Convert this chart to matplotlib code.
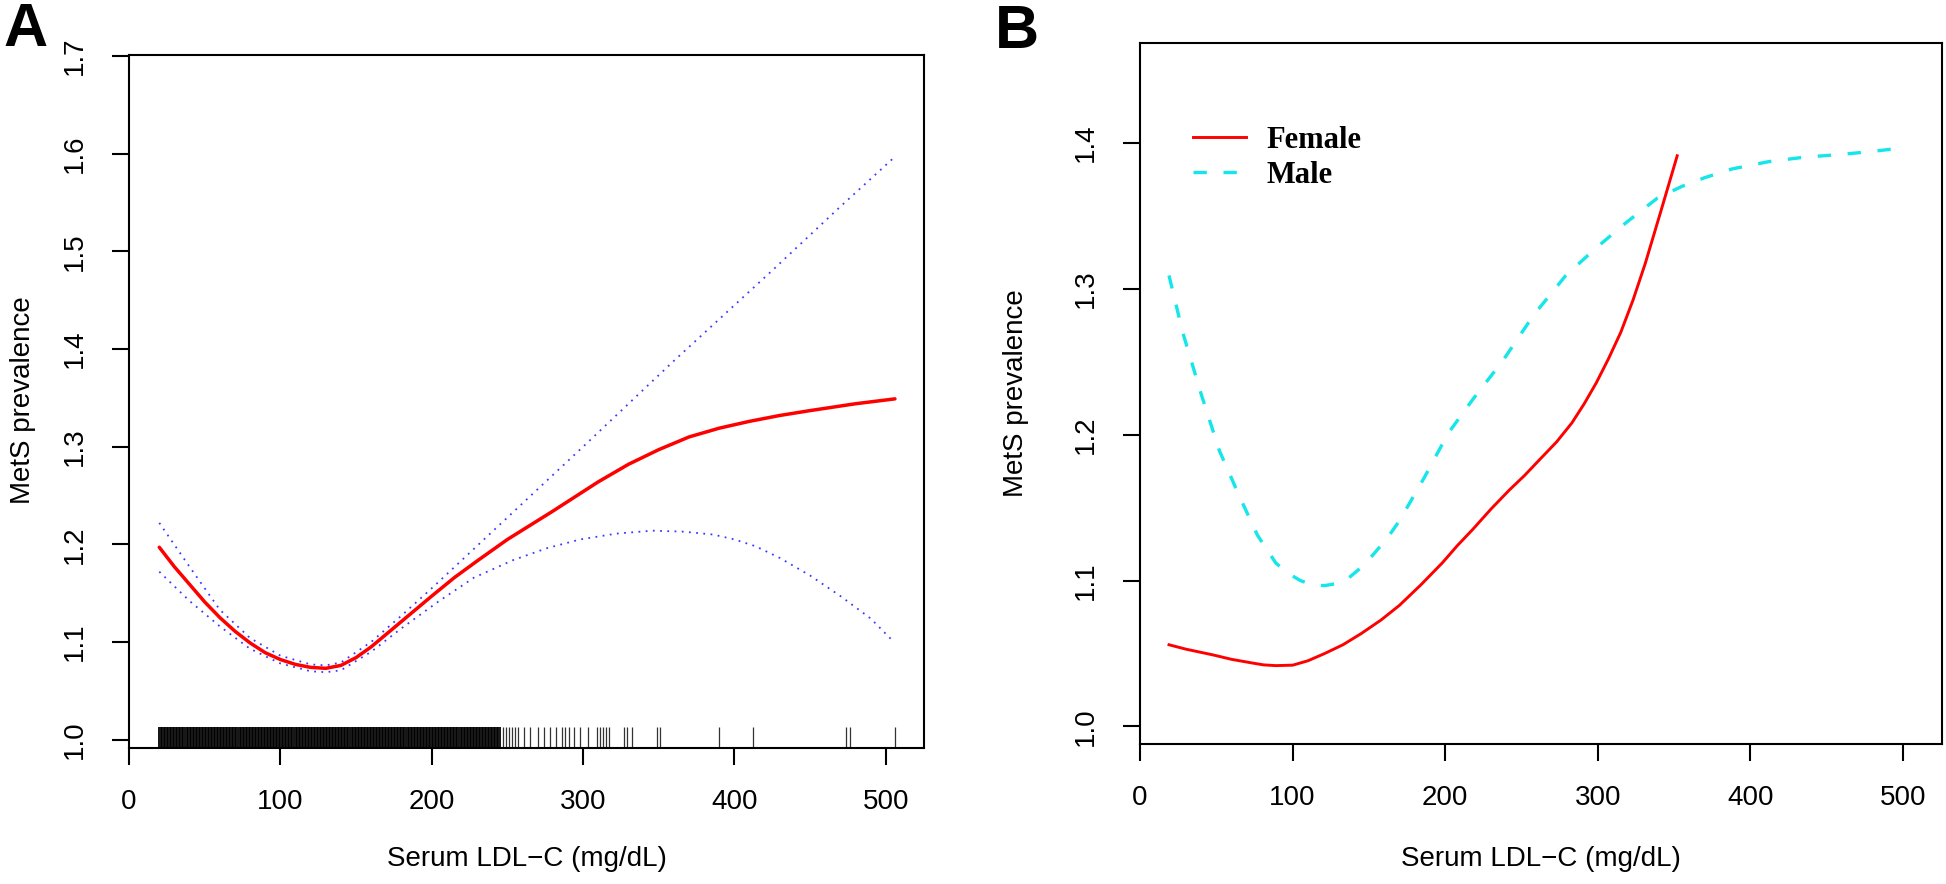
import numpy as np
import matplotlib
matplotlib.use("Agg")
import matplotlib.pyplot as plt
from matplotlib.transforms import blended_transform_factory

# ---------------- data ----------------
# Panel A: overall association (fitted curve + 95% CI)
a_fit_x = [20, 30, 40, 50, 60, 70, 80, 90, 100, 110, 120, 130, 140, 150, 160, 170, 180, 190, 200, 215,
           230, 250, 280, 310, 330, 350, 370, 390, 410, 430, 450, 480, 506]
a_fit_y = [1.197, 1.177, 1.159, 1.141, 1.125, 1.111, 1.099, 1.089, 1.082, 1.077, 1.074, 1.073, 1.076,
           1.084, 1.095, 1.108, 1.121, 1.134, 1.147, 1.166, 1.183, 1.205, 1.234, 1.264, 1.282, 1.297,
           1.310, 1.319, 1.326, 1.332, 1.337, 1.344, 1.349]
a_upper_x = [20, 40, 60, 80, 100, 120, 130, 140, 160, 180, 200, 220, 260, 300, 360, 426, 470, 506]
a_upper_y = [1.222, 1.177, 1.133, 1.104, 1.086, 1.077, 1.076, 1.079, 1.100, 1.127, 1.155, 1.184, 1.242,
             1.300, 1.388, 1.482, 1.546, 1.597]
a_lower_x = [20, 40, 60, 80, 100, 120, 130, 140, 160, 180, 204, 228, 254, 276, 298, 322, 346, 366, 386,
             400, 414, 430, 450, 470, 490, 504]
a_lower_y = [1.172, 1.142, 1.116, 1.093, 1.078, 1.070, 1.069, 1.071, 1.090, 1.114, 1.141, 1.166, 1.184,
             1.196, 1.205, 1.211, 1.214, 1.213, 1.210, 1.205, 1.198, 1.186, 1.168, 1.147, 1.124, 1.102]
# rug: every integer value 20-245 observed (solid block), then sparse observations
rug_dense = np.arange(20, 246)
rug_sparse = [247, 249, 251, 253, 255, 257, 261, 265, 270, 274, 278, 282, 286, 288, 291, 294, 298, 303,
              309, 311, 313, 315, 317, 327, 329, 332, 349, 351, 390, 412, 474, 476, 506]

# Panel B: by sex
female_x = [19, 30, 48, 60, 73, 81, 89, 100, 110, 121, 133, 145, 158, 170, 184, 198, 208, 218, 230, 242,
            252, 262, 273, 283, 291, 299, 307, 315, 323, 331, 341, 352]
female_y = [1.056, 1.053, 1.049, 1.046, 1.0436, 1.0422, 1.0417, 1.042, 1.045, 1.050, 1.056, 1.0637,
            1.073, 1.083, 1.097, 1.112, 1.124, 1.135, 1.149, 1.162, 1.172, 1.183, 1.195, 1.208, 1.221,
            1.2355, 1.252, 1.270, 1.292, 1.317, 1.352, 1.391]
male_x = [19, 28, 40, 52, 65, 77, 89, 97, 105, 113, 121, 129, 137, 145, 153, 162, 170, 186, 202, 218, 238,
          258, 279, 299, 319, 339, 355, 370, 388, 412, 435, 460, 480, 500]
male_y = [1.309, 1.270, 1.228, 1.189, 1.158, 1.131, 1.112, 1.105, 1.100, 1.097, 1.0965, 1.098, 1.102,
          1.109, 1.118, 1.129, 1.141, 1.170, 1.201, 1.224, 1.251, 1.282, 1.309, 1.328, 1.3456, 1.362,
          1.370, 1.376, 1.382, 1.387, 1.390, 1.392, 1.394, 1.3965]

x_ticks = [0, 100, 200, 300, 400, 500]
a_y_ticks = [1.0, 1.1, 1.2, 1.3, 1.4, 1.5, 1.6, 1.7]
b_y_ticks = [1.0, 1.1, 1.2, 1.3, 1.4]
x_label = "Serum LDL\u2212C (mg/dL)"
y_label = "MetS prevalence"
legend_labels = ["Female", "Male"]

# ---------------- style ----------------
plt.rcParams["font.family"] = ["Liberation Sans", "DejaVu Sans"]
W, H = 1946, 884
fig = plt.figure(figsize=(W / 100, H / 100), dpi=100)

def frac(l, r, t, b):
    return [l / W, 1 - b / H, (r - l) / W, (b - t) / H]

axA = fig.add_axes(frac(129, 924, 54.5, 748))
axB = fig.add_axes(frac(1140, 1942, 43.4, 744))

for ax in (axA, axB):
    for s in ax.spines.values():
        s.set_linewidth(1.5)
    ax.tick_params(width=1.5, length=12.5, pad=17, labelsize=20, direction="out")
    ax.set_xticks(x_ticks)
    ax.set_xticklabels([str(v) for v in x_ticks])

# Panel A
axA.set_xlim(0, 525.2)
axA.set_ylim(0.9914, 1.7017)
axA.set_yticks(a_y_ticks)
axA.set_yticklabels([f"{v:.1f}" for v in a_y_ticks], rotation=90, va="center")
axA.plot(a_upper_x, a_upper_y, color="#3a3aff", lw=1.3, linestyle=(0, (1, 3)))
axA.plot(a_lower_x, a_lower_y, color="#3a3aff", lw=1.3, linestyle=(0, (1, 3)))
axA.plot(a_fit_x, a_fit_y, color="red", lw=2.5, solid_capstyle="round", solid_joinstyle="round")
trA = blended_transform_factory(axA.transData, axA.transAxes)
axA.vlines(rug_dense, 0, 0.03, transform=trA, color="black", lw=1.3)
axA.vlines(rug_sparse, 0, 0.03, transform=trA, color="#333333", lw=0.9)
axA.set_xlabel(x_label, fontsize=20)
axA.set_ylabel(y_label, fontsize=20)
axA.xaxis.set_label_coords(0.5, -0.141)
axA.yaxis.set_label_coords(-0.117, 0.502)

# Panel B
axB.set_xlim(0, 525.5)
axB.set_ylim(0.988, 1.468)
axB.set_yticks(b_y_ticks)
axB.set_yticklabels([f"{v:.1f}" for v in b_y_ticks], rotation=90, va="center")
lf, = axB.plot(female_x, female_y, color="red", lw=2.1, label=legend_labels[0],
               solid_joinstyle="round")
lm, = axB.plot(male_x, male_y, color="#14e6ea", lw=2.4, linestyle=(0, (4, 5)), label=legend_labels[1])
axB.set_xlabel(x_label, fontsize=20)
axB.set_ylabel(y_label, fontsize=20)
axB.xaxis.set_label_coords(0.5, -0.1456)
axB.yaxis.set_label_coords(-0.1384, 0.501)
axB.legend(handles=[lf, lm], loc="upper left", bbox_to_anchor=(0.066, 0.882), frameon=False,
           prop={"family": "Liberation Serif", "weight": "bold", "size": 22},
           handlelength=1.75, handletextpad=0.65, labelspacing=0.2, borderpad=0, borderaxespad=0)

# Panel letters
fig.text(3 / W, 1 - 2 / H, "A", fontsize=44, fontweight="bold", ha="left", va="top")
fig.text(995 / W, 1 - 4 / H, "B", fontsize=44, fontweight="bold", ha="left", va="top")

fig.savefig("out.png", dpi=100)
